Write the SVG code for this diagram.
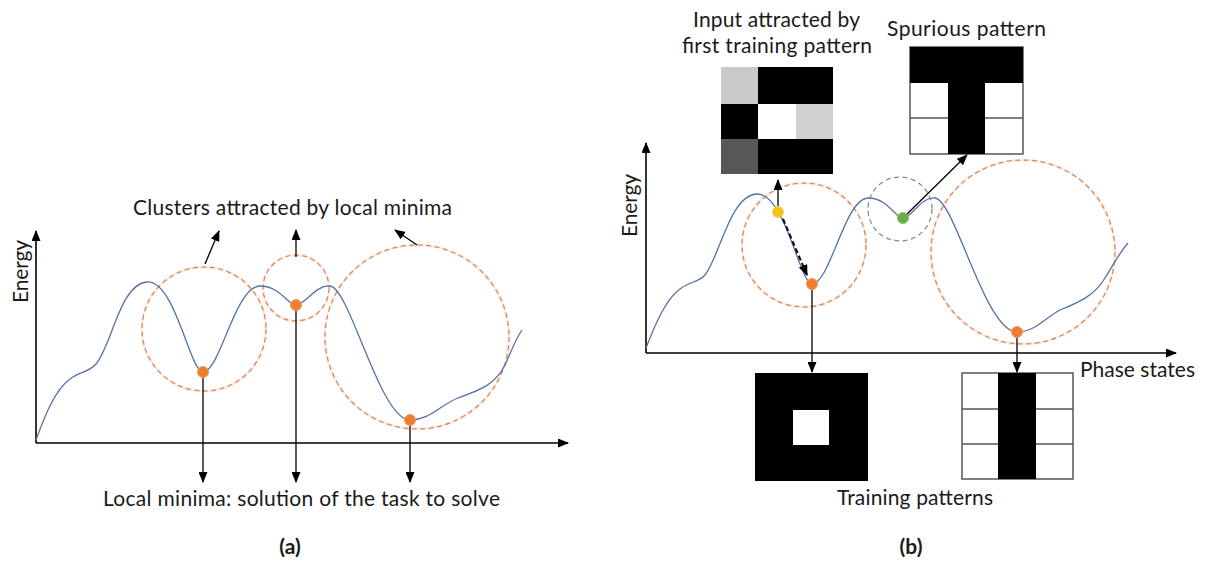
<svg xmlns="http://www.w3.org/2000/svg" width="1205" height="561" viewBox="0 0 1205 561">
<style>
text{font-family:Lato,"Open Sans","Liberation Sans",sans-serif;font-size:21px;fill:#1a1a1a}
.cap{font-weight:bold;font-size:21px}
.axis{stroke:#000;stroke-width:1.6;fill:none}
.arr{stroke:#000;stroke-width:1.3;fill:none}
.curve{stroke:#5572a8;stroke-width:1.3;fill:none}
.halo{stroke:#fdf0e6;stroke-width:3;fill:none}
.oc{stroke:#d4875f;stroke-width:1.25;stroke-dasharray:5 3.5;fill:none}
.gc{stroke:#7c9283;stroke-width:1.25;stroke-dasharray:5 3.5;fill:none}
.grid{stroke:#555;stroke-width:1.5}
.dot-o{fill:#ed7d31;stroke:#f29a5e;stroke-width:1}
</style>
<defs>
<marker id="ah" markerUnits="userSpaceOnUse" markerWidth="11" markerHeight="9" refX="10" refY="4.5" orient="auto">
<path d="M0,0 L11,4.5 L0,9 z" fill="#000"/>
</marker>
</defs>
<rect width="1205" height="561" fill="#fff"/>

<!-- Panel (a) -->
<g id="a-circles">
<circle class="halo" cx="204" cy="329" r="62"/>
<circle class="halo" cx="296" cy="288" r="33"/>
<circle class="halo" cx="417" cy="337" r="92"/>
<circle class="oc" cx="204" cy="329" r="62"/>
<circle class="oc" cx="296" cy="288" r="33"/>
<circle class="oc" cx="417" cy="337" r="92"/>
</g>
<g id="a-axes">
<line class="axis" x1="36" y1="443" x2="36" y2="231" marker-end="url(#ah)"/>
<line class="axis" x1="36" y1="443" x2="568" y2="443" marker-end="url(#ah)"/>
</g>
<g id="a-curve">
<path class="curve" d="M36,440 C45,415 55,390 70,379 C80,371 88,373 96,364 C112,345 120,284 147,282 C175,280 190,372 203,372 C220,372 235,286 260,286 C280,286 288,305 296,305 C305,305 315,285 330,286 C350,288 380,420 410,420 C430,420 440,405 458,398 C480,390 495,385 505,365 C512,350 515,340 522,330"/>
</g>
<g id="connectors-a">
<line class="arr" x1="205" y1="264" x2="219" y2="231" marker-end="url(#ah)"/>
<line class="arr" x1="296" y1="257" x2="296" y2="230" marker-end="url(#ah)"/>
<line class="arr" x1="417" y1="245" x2="395" y2="230" marker-end="url(#ah)"/>
<line class="arr" x1="203" y1="372" x2="203" y2="482" marker-end="url(#ah)"/>
<line class="arr" x1="296" y1="305" x2="296" y2="482" marker-end="url(#ah)"/>
<line class="arr" x1="410" y1="420" x2="410" y2="482" marker-end="url(#ah)"/>
</g>
<g id="a-dots">
<circle class="dot-o" cx="203" cy="372" r="5.5"/>
<circle class="dot-o" cx="296" cy="305" r="5.5"/>
<circle class="dot-o" cx="410" cy="420" r="5.5"/>
</g>
<g id="a-labels">
<text transform="translate(28,303) rotate(-90)" textLength="63">Energy</text>
<text x="133" y="215" textLength="319">Clusters attracted by local minima</text>
<text x="103" y="506" textLength="397">Local minima: solution of the task to solve</text>
<text class="cap" x="290" y="554" text-anchor="middle">(a)</text>
</g>

<!-- Panel (b) -->
<g id="b-circles">
<circle class="halo" cx="804" cy="245" r="62"/>
<circle class="halo" cx="1023" cy="252" r="92"/>
<circle class="oc" cx="804" cy="245" r="62"/>
<circle class="gc" cx="900" cy="209" r="32"/>
<circle class="oc" cx="1023" cy="252" r="92"/>
</g>
<g id="b-axes">
<line class="axis" x1="646" y1="353" x2="646" y2="143" marker-end="url(#ah)"/>
<line class="axis" x1="646" y1="353" x2="1176" y2="353" marker-end="url(#ah)"/>
</g>
<g id="b-curve">
<path class="curve" d="M646,348 C655,325 665,300 680,289 C690,281 698,283 705,275 C720,256 730,195 757,194 C785,193 800,284 812,284 C830,284 845,198 868,198 C888,198 895,218 903,218 C912,218 920,197 935,198 C955,200 985,332 1017,332 C1035,332 1045,318 1060,310 C1080,302 1095,295 1105,278 C1115,262 1120,252 1128,243"/>
</g>
<g id="input-pattern">
<rect x="721" y="67" width="112" height="107" fill="#000"/>
<rect x="721" y="67" width="37" height="37" fill="#c9c9c9"/>
<rect x="758" y="104" width="38" height="35" fill="#fff"/>
<rect x="796" y="104" width="37" height="35" fill="#d0d0d0"/>
<rect x="721" y="139" width="37" height="35" fill="#575757"/>
</g>
<g id="spurious-pattern">
<rect x="910" y="47" width="113" height="107" fill="#fff" class="grid"/>
<line class="grid" x1="910" y1="118" x2="1023" y2="118"/>
<rect x="910" y="47" width="113" height="36" fill="#000"/>
<rect x="948" y="47" width="37" height="107" fill="#000"/>
</g>
<g id="training-pattern-1">
<rect x="755" y="373" width="113" height="108" fill="#000"/>
<rect x="793" y="410" width="36" height="35" fill="#fff"/>
</g>
<g id="training-pattern-2">
<rect x="962" y="373" width="111" height="106" fill="#fff" class="grid"/>
<line class="grid" x1="962" y1="409" x2="1073" y2="409"/>
<line class="grid" x1="962" y1="444" x2="1073" y2="444"/>
<rect x="998" y="373" width="38" height="106" fill="#000"/>
</g>
<g id="connectors-b">
<line class="arr" x1="778" y1="211" x2="778" y2="180" marker-end="url(#ah)"/>
<line x1="783" y1="219" x2="807" y2="275" stroke="#000" stroke-width="2" stroke-dasharray="5 3" marker-end="url(#ah)"/>
<line class="arr" x1="903" y1="218" x2="967" y2="155" marker-end="url(#ah)"/>
<line class="arr" x1="812" y1="284" x2="812" y2="372" marker-end="url(#ah)"/>
<line class="arr" x1="1017" y1="332" x2="1017" y2="372" marker-end="url(#ah)"/>
</g>
<g id="b-dots">
<circle cx="778" cy="212" r="5.5" fill="#f5c21b" stroke="#f8d35a" stroke-width="1"/>
<circle class="dot-o" cx="812" cy="284" r="5.5"/>
<circle cx="903" cy="218" r="5.5" fill="#6aab45" stroke="#8cc46a" stroke-width="1"/>
<circle class="dot-o" cx="1017" cy="332" r="5.5"/>
</g>
<g id="b-labels">
<text transform="translate(637,237) rotate(-90)" textLength="63">Energy</text>
<text x="693" y="27" textLength="167">Input attracted by</text>
<text x="682" y="53" textLength="190">first training pattern</text>
<text x="887" y="36" textLength="159">Spurious pattern</text>
<text x="1080" y="377" textLength="115">Phase states</text>
<text x="837" y="505" textLength="156">Training patterns</text>
<text class="cap" x="911" y="554" text-anchor="middle">(b)</text>
</g>
</svg>
